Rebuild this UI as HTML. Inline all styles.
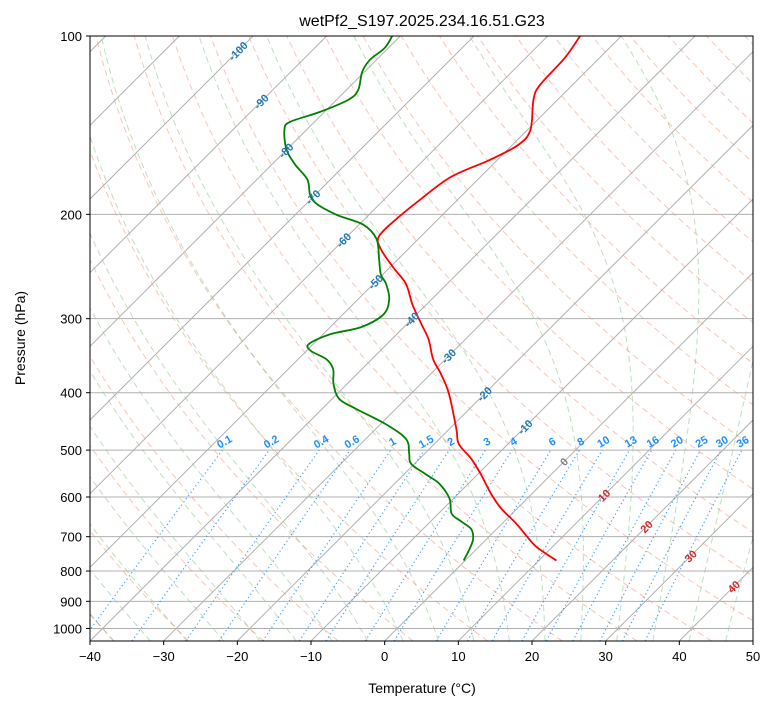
<!DOCTYPE html>
<html><head><meta charset="utf-8"><style>
body{margin:0;background:#fff;}
text{font-family:"Liberation Sans",sans-serif;}
</style></head><body>
<svg id="chart" width="775" height="708" xmlns="http://www.w3.org/2000/svg">
<defs><clipPath id="plotclip"><rect x="90" y="36" width="663" height="605"/></clipPath></defs>
<rect x="0" y="0" width="775" height="708" fill="#fff"/>
<text x="422" y="26" font-size="16" text-anchor="middle">wetPf2_S197.2025.234.16.51.G23</text>
<g id="bg" clip-path="url(#plotclip)"></g>
<g id="series" clip-path="url(#plotclip)"></g>
<g id="labels"></g>
<rect x="90" y="36" width="663" height="605" fill="none" stroke="#000" stroke-width="1"/>
<g id="axes"></g>
<text x="422" y="693" font-size="14" text-anchor="middle">Temperature (°C)</text>
<text x="25" y="338" font-size="14" text-anchor="middle" transform="rotate(-90 25 338)">Pressure (hPa)</text>
</svg>
<script>
const tempTicks = [-40,-30,-20,-10,0,10,20,30,40,50];
const pressureTicks = [100,200,300,400,500,600,700,800,900,1000];
const tempP = [100,108.9,120.9,128,144,152.6,161.7,173,189,204,218,229,246,262,284,306,325,351,372,402,460,488,517,549,593,628,665,697,728,768];
const tempT = [-55.6,-54.7,-54.4,-53.3,-49.6,-49.2,-51,-54,-55.1,-55.7,-55.7,-53.7,-49.5,-45.6,-41.9,-38.1,-35,-31.7,-28.6,-24.8,-19.1,-16.7,-13,-9.6,-5.5,-2.1,1.9,4.9,7.8,12.4];
const dewP = [100,104.8,109.7,115,123.3,128.1,134.3,139.6,144,155.6,164.9,174.8,189,200,208,220,238,252.5,262,278,295,310,318.6,331,340,351,365,387,410,426,452,479,507,527,549,570,604,640,660,679,705,733,768];
const dewT = [-81.1,-80.5,-80.9,-80.3,-78.4,-78.4,-80.6,-83.3,-83,-80,-76.8,-73.1,-69.7,-64.6,-59.5,-55.7,-52.6,-50.3,-48.3,-45.8,-44.5,-45.8,-49,-50.6,-49.4,-46.2,-43.9,-41.8,-39,-35.4,-29.3,-24.5,-22.1,-20.5,-17.1,-13.9,-10.5,-8.2,-5.8,-3.5,-1.9,-1,-0.2];
const mixingRatios = [0.1,0.2,0.4,0.6,1,1.5,2,3,4,6,8,10,13,16,20,25,30,36];
const mixingLabels = ["0.1","0.2","0.4","0.6","1","1.5","2","3","4","6","8","10","13","16","20","25","30","36"];
const isoLabelT = [-100,-90,-80,-70,-60,-50,-40,-30,-20,-10,0,10,20,30,40];
const isoLabelP = [106,129,156,187,221,260,301,347,402,457,523,596,673,755,850];

const NS="http://www.w3.org/2000/svg";
const PTOP=100, PBOT=1050, Y0=36, Y1=641, X0=90, X1=753;
const K=(Y1-Y0)/Math.log(PBOT/PTOP);
function yP(p){return Y0+K*Math.log(p/PTOP);}
function xT(t,p){return X0+(t+40)*(X1-X0)/90+(Y1-yP(p));}
function mk(tag,parent,attrs){const e=document.createElementNS(NS,tag);for(const k in attrs)e.setAttribute(k,attrs[k]);parent.appendChild(e);return e;}
function pathFrom(ts,ps){let d="";for(let i=0;i<ts.length;i++){d+=(i?"L":"M")+xT(ts[i],ps[i]).toFixed(2)+" "+yP(ps[i]).toFixed(2);}return d;}
function smoothFrom(ts,ps){const pts=ts.map((t,i)=>[xT(t,ps[i]),yP(ps[i])]);let d="M"+pts[0][0].toFixed(2)+" "+pts[0][1].toFixed(2);
 for(let i=0;i<pts.length-1;i++){const p0=pts[Math.max(0,i-1)],p1=pts[i],p2=pts[i+1],p3=pts[Math.min(pts.length-1,i+2)];
  const c1=[p1[0]+(p2[0]-p0[0])/6,p1[1]+(p2[1]-p0[1])/6],c2=[p2[0]-(p3[0]-p1[0])/6,p2[1]-(p3[1]-p1[1])/6];
  d+="C"+c1[0].toFixed(2)+" "+c1[1].toFixed(2)+" "+c2[0].toFixed(2)+" "+c2[1].toFixed(2)+" "+p2[0].toFixed(2)+" "+p2[1].toFixed(2);}return d;}
const bg=document.getElementById('bg'),series=document.getElementById('series'),labels=document.getElementById('labels'),axes=document.getElementById('axes');
const plev=[];for(let p=PBOT;p>=PTOP-1;p-=10)plev.push(p);

// dry adiabats
for(let t0=-40;t0<=200;t0+=10){const th=t0+273.15;const ts=plev.map(p=>th*Math.pow(p/1000,0.2857)-273.15);
 const e=mk('path',bg,{d:pathFrom(ts,plev),fill:'none',stroke:'#f08060','stroke-opacity':'0.45','stroke-width':'1','stroke-dasharray':'6,4'});
 
 }
// moist adiabats
function es(t){return 6.112*Math.exp(17.67*t/(t+243.5));}
function moistRate(T,p){const tc=T-273.15;const rs=0.622*es(tc)/(p-es(tc));const Rd=287.04,Lv=2.501e6,Cp=1005.7;
 return (1/p)*(Rd*T+Lv*rs)/(Cp+Lv*Lv*rs*0.622/(Rd*T*T));}
const moistStarts=[];for(let t=-60;t<=45;t+=5)moistStarts.push(t);
moistStarts.forEach(t0=>{
 const up=[],pu=[];let T=t0+273.15;for(let p=1000;p>=PTOP-0.01;p-=5){up.push(T-273.15);pu.push(p);T-=moistRate(T,p)*5;}
 let Td=t0+273.15;const dn=[],pd=[];for(let p=1000;p<=PBOT;p+=5){dn.push(Td-273.15);pd.push(p);Td+=moistRate(Td,p)*5;}
 const ts=dn.reverse().concat(up.slice(1)),ps=pd.reverse().concat(pu.slice(1));
 const e=mk('path',bg,{d:pathFrom(ts,ps),fill:'none',stroke:'#60b060','stroke-opacity':'0.4','stroke-width':'1','stroke-dasharray':'6,4'});
 
 });
// isotherms (grid)
for(let t=-200;t<=50;t+=10){const e=mk('line',bg,{x1:xT(t,PBOT),y1:yP(PBOT),x2:xT(t,PTOP),y2:yP(PTOP),stroke:'#b0b0b0','stroke-width':'1'});
 
 }
// pressure grid
pressureTicks.forEach(p=>{const e=mk('line',bg,{x1:X0,y1:yP(p),x2:X1,y2:yP(p),stroke:'#b0b0b0','stroke-width':'1'});
 
 });
// mixing ratio lines
function tdFromW(w,p){const wk=w/1000;const e=p*wk/(0.622+wk);const l=Math.log(e/6.112);return 243.5*l/(17.67-l);}
mixingRatios.forEach((w,i)=>{const ps=[];for(let p=PBOT;p>=500;p-=10)ps.push(p);
 const ts=ps.map(p=>tdFromW(w,p));
 const e=mk('path',bg,{d:pathFrom(ts,ps),fill:'none',stroke:'#1e90ff','stroke-opacity':'0.85','stroke-width':'1.2','stroke-dasharray':'1.2,2.8'});
 
 
 const lx=xT(tdFromW(w,490),490),ly=yP(490);
 const t=mk('text',labels,{x:lx,y:ly,'font-size':'11','font-weight':'bold',fill:'#1e90ff','text-anchor':'middle',transform:`rotate(-30 ${lx} ${ly})`});
 t.textContent=mixingLabels[i];
 
 });
// isotherm labels
isoLabelT.forEach((tv,i)=>{const lx=xT(tv,isoLabelP[i]),ly=yP(isoLabelP[i])+4;
 const col=tv<0?'#1f77b4':(tv===0?'#808080':'#d62728');
 const t=mk('text',labels,{x:lx,y:ly,'font-size':'11','font-weight':'bold',fill:col,'text-anchor':'middle',transform:`rotate(-45 ${lx} ${ly-4})`});
 t.textContent=String(tv);
 
 });
// series
const tl=mk('path',series,{d:smoothFrom(tempT,tempP),fill:'none',stroke:'#ff0000','stroke-width':'1.8','stroke-linejoin':'round'});


const dl=mk('path',series,{d:smoothFrom(dewT,dewP),fill:'none',stroke:'#008000','stroke-width':'1.8','stroke-linejoin':'round'});


// axes ticks
tempTicks.forEach(t=>{const x=X0+(t+40)*(X1-X0)/90;
 const l=mk('line',axes,{x1:x,y1:Y1,x2:x,y2:Y1+4,stroke:'#000'});
 
 
 const tx=mk('text',axes,{x:x,y:Y1+20,'font-size':'13','text-anchor':'middle'});
 tx.textContent=(t<0?'\u2212'+(-t):String(t));
 
 });
pressureTicks.forEach(p=>{const y=yP(p);
 const l=mk('line',axes,{x1:X0-4,y1:y,x2:X0,y2:y,stroke:'#000'});
 
 
 const tx=mk('text',axes,{x:X0-8,y:y+5,'font-size':'13','text-anchor':'end'});
 tx.textContent=String(p);
 
 });
</script>
</body></html>
